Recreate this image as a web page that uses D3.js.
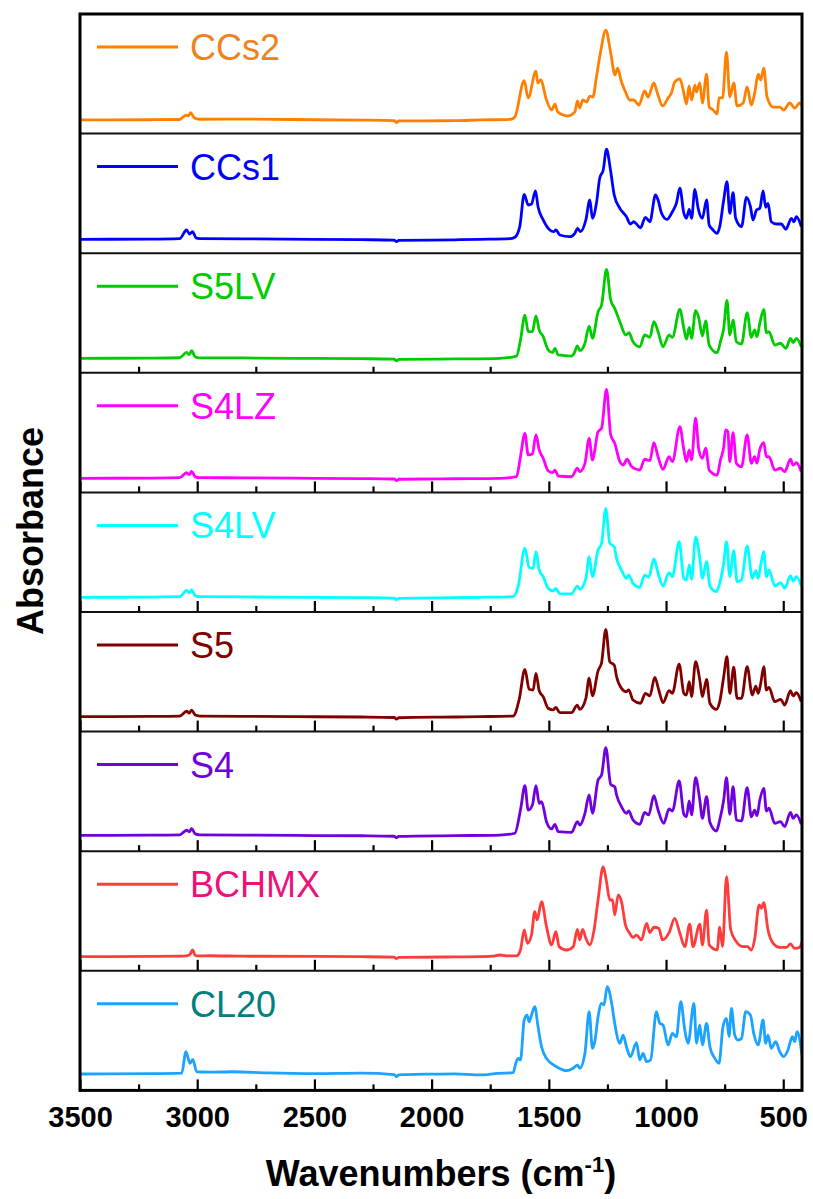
<!DOCTYPE html>
<html>
<head>
<meta charset="utf-8">
<script src="https://cdn.jsdelivr.net/npm/d3@7"></script>
<style>
  body { margin: 0; background: #fff; }
  svg { display: block; font-family: "Liberation Sans", Arial, sans-serif; }
</style>
</head>
<body>
<div id="chart"></div>
<script>
// tick values (wavenumbers, cm-1)
const majorTicks = [3500, 3000, 2500, 2000, 1500, 1000, 500];
const minorTicks = [3250, 2750, 2250, 1750, 1250, 750];

// samples, top panel first
const names = ['CCs2', 'CCs1', 'S5LV', 'S4LZ', 'S4LV', 'S5', 'S4', 'BCHMX', 'CL20'];
const lineColors = ['#ff8000', '#0000ff', '#00cc00', '#ff00ff', '#00ffff', '#800000', '#7000dd', '#ff3c3c', '#1aa3ff'];
const labelColors = ['#f0821e', '#0000ff', '#00cc00', '#ff00ff', '#00ffff', '#800000', '#7000dd', '#ec1279', '#008080'];
// which panel bottoms carry ticks: 0 none, 1 minor only, 2 all
const tickMode = [0, 0, 1, 2, 2, 2, 2, 2, 2];

// spectra as [wavenumber, absorbance (% of panel height)]
const ccs2 = [[3500,11.4],[3200,11.6],[3075,11.8],[3048,15.5],[3038,14.8],[3028,17.5],[3012,13.0],[2990,12.0],[2800,12.1],[2500,11.6],[2300,11.3],[2160,10.8],[2150,9.3],[2140,10.6],[1900,10.8],[1794,11.4],[1662,12.0],
  [1645,13.9],[1605,44.2],[1588,29.8],[1555,52.3],[1547,42.3],[1535,44.8],[1510,28.1],[1488,19.7],[1474,24.7],[1462,18.1],[1419,14.7],[1389,18.1],[1378,27.3],[1368,21.4],[1355,28.1],[1339,26.4],[1325,31.4],[1312,30.6],[1297,47.3],[1280,67.4],[1257,86.6],[1236,67.4],[1218,49.0],[1207,54.8],[1190,43.1],[1173,34.8],[1155,28.1],[1138,28.1],[1116,23.9],[1091,35.6],[1077,30.6],[1052,42.3],[1037,33.9],[1015,23.1],[991,29.8],[977,33.9],[963,43.1],[941,45.7],[927,36.5],[913,24.7],[902,39.8],[891,28.1],[877,40.6],[870,34.8],[856,42.3],[845,25.6],[827,49.8],[816,22.2],[799,19.7],[782,16.4],[774,29.8],[759,29.8],[742,68.2],[728,30.6],[711,42.3],[697,23.1],[671,25.6],[654,39.0],[636,23.9],[621,34.8],[607,49.8],[596,44.8],[583,54.8],[569,30.6],[543,22.2],[515,22.2],[498,19.7],[472,25.6],[451,21.4],[430,25.6],[420,23.1]];

const ccs1 = [[3500,11.6],[3200,11.8],[3075,12.2],[3045,19.4],[3033,16.0],[3020,18.0],[3005,12.8],[2990,12.2],[2800,12.0],[2500,11.6],[2300,11.3],[2160,11.0],[2150,9.6],[2140,10.8],[1900,11.2],[1794,11.6],[1662,12.2],
  [1645,13.3],[1624,22.2],[1605,49.2],[1588,40.3],[1574,41.1],[1557,52.0],[1546,38.9],[1524,27.8],[1496,19.4],[1479,18.0],[1470,19.4],[1453,15.2],[1411,13.8],[1389,16.6],[1378,20.8],[1365,18.0],[1342,27.8],[1325,44.5],[1314,29.2],[1297,41.7],[1283,62.6],[1268,69.6],[1254,86.9],[1237,69.6],[1221,48.7],[1197,37.5],[1169,30.5],[1152,24.4],[1138,26.3],[1126,24.4],[1109,21.3],[1088,30.0],[1069,26.3],[1045,48.7],[1034,44.5],[1019,33.4],[996,28.3],[973,34.7],[956,41.7],[941,54.3],[924,33.4],[913,29.2],[901,36.7],[891,29.2],[877,53.4],[863,37.5],[845,29.2],[827,44.5],[816,23.6],[802,20.0],[782,16.6],[771,22.2],[754,44.5],[740,59.8],[728,33.4],[714,50.6],[703,29.2],[678,22.2],[657,46.7],[640,38.9],[629,27.8],[614,36.1],[600,37.5],[586,52.0],[575,38.4],[565,41.7],[551,26.3],[529,24.4],[508,24.4],[489,20.0],[465,29.2],[454,26.3],[444,30.5],[423,22.2]];

const s5lv = [[3500,12.1],[3200,12.3],[3075,12.6],[3045,17.0],[3034,15.2],[3024,18.5],[3008,13.2],[2990,12.5],[2800,12.4],[2500,12.0],[2300,11.8],[2160,11.4],[2150,10.0],[2140,11.2],[1900,11.6],[1709,12.1],
  [1638,14.0],[1621,27.4],[1602,48.3],[1588,34.4],[1570,34.4],[1555,47.5],[1541,35.8],[1524,30.2],[1503,19.1],[1484,16.8],[1474,20.5],[1460,14.9],[1403,14.0],[1389,17.6],[1378,22.4],[1368,18.5],[1346,24.7],[1328,39.1],[1314,28.8],[1290,51.1],[1275,56.7],[1254,86.5],[1236,60.9],[1219,53.9],[1197,42.7],[1172,31.6],[1158,33.5],[1141,26.0],[1112,21.8],[1091,31.6],[1069,29.7],[1052,42.7],[1034,34.4],[1013,21.8],[987,31.6],[973,29.7],[941,53.1],[924,37.2],[913,28.0],[901,38.0],[891,28.8],[874,51.9],[860,45.6],[845,30.8],[831,43.3],[816,23.2],[782,16.8],[768,26.0],[754,37.2],[740,60.6],[728,31.6],[714,44.1],[700,26.0],[678,24.1],[654,50.2],[636,29.7],[622,35.8],[612,30.2],[600,41.4],[583,53.1],[572,33.5],[561,34.4],[536,23.2],[512,24.7],[489,20.5],[469,28.8],[458,25.2],[444,28.8],[423,21.8]];

const s4lz = [[3500,11.8],[3200,12.0],[3075,12.3],[3045,16.5],[3034,14.8],[3024,17.5],[3008,13.0],[2990,12.3],[2800,12.2],[2500,11.8],[2300,11.6],[2160,11.2],[2150,9.8],[2140,11.0],[1900,11.4],[1709,11.8],
  [1638,13.1],[1621,29.8],[1602,49.4],[1588,31.3],[1570,32.1],[1555,48.0],[1541,35.5],[1524,28.5],[1503,18.1],[1484,16.5],[1474,18.7],[1460,13.7],[1403,13.1],[1378,20.2],[1368,17.3],[1346,24.3],[1328,45.2],[1314,27.1],[1290,50.8],[1275,53.6],[1254,86.2],[1236,48.0],[1219,41.1],[1197,25.7],[1183,22.9],[1166,27.7],[1147,21.5],[1112,18.7],[1091,27.7],[1069,26.5],[1052,41.6],[1034,29.8],[1013,19.3],[987,29.8],[973,25.7],[941,54.9],[924,35.5],[913,25.7],[901,35.5],[891,27.1],[874,62.0],[860,35.5],[845,28.5],[831,36.9],[816,18.7],[782,14.5],[768,27.1],[754,37.7],[746,52.2],[736,50.8],[728,25.7],[714,50.0],[700,24.3],[678,21.5],[654,48.0],[636,24.3],[622,29.8],[612,24.3],[600,36.0],[583,41.6],[572,29.8],[561,29.8],[536,18.7],[512,20.2],[494,17.3],[469,27.7],[458,22.9],[444,24.8],[423,17.3]];

const s4lv = [[3500,12.3],[3200,12.5],[3075,12.8],[3045,18.0],[3034,16.0],[3024,18.5],[3008,13.5],[2990,12.8],[2800,12.6],[2500,12.2],[2300,12.0],[2160,11.6],[2150,10.2],[2140,11.4],[1900,12.0],[1794,12.3],
  [1652,12.8],[1631,21.2],[1602,53.3],[1584,37.4],[1567,36.5],[1555,50.4],[1541,35.1],[1524,29.5],[1503,19.8],[1482,17.6],[1470,19.8],[1453,15.1],[1403,15.1],[1379,21.7],[1368,19.0],[1342,28.2],[1328,46.2],[1314,29.5],[1290,51.8],[1275,57.4],[1257,86.7],[1240,57.4],[1221,54.6],[1211,44.9],[1190,35.1],[1169,28.2],[1159,30.9],[1141,24.0],[1112,20.7],[1091,30.9],[1074,29.0],[1052,44.3],[1034,32.4],[1013,21.7],[987,32.9],[973,29.5],[944,58.8],[924,28.2],[913,26.8],[901,39.3],[891,27.3],[874,62.5],[856,44.9],[845,28.2],[827,42.1],[813,21.7],[785,17.0],[771,24.0],[754,40.7],[742,58.8],[728,29.5],[711,51.3],[697,25.3],[678,26.8],[654,55.2],[632,28.2],[617,34.5],[607,28.2],[596,39.3],[583,50.4],[572,29.5],[561,35.1],[536,21.7],[511,24.5],[494,19.8],[469,30.1],[458,25.9],[444,29.5],[423,21.7]];

const s5 = [[3500,12.5],[3200,12.7],[3075,13.0],[3045,17.0],[3034,15.5],[3024,18.0],[3008,13.8],[2990,13.0],[2800,12.8],[2500,12.4],[2300,12.2],[2160,11.8],[2150,10.4],[2140,11.6],[1900,12.2],[1794,12.5],
  [1652,13.0],[1627,26.4],[1602,52.1],[1584,35.4],[1567,34.8],[1555,48.7],[1541,34.2],[1524,29.2],[1503,19.5],[1482,18.1],[1470,20.3],[1453,15.8],[1403,15.8],[1379,22.2],[1368,18.6],[1342,27.8],[1328,44.6],[1314,29.8],[1290,50.9],[1275,57.6],[1257,85.5],[1240,58.4],[1221,55.7],[1211,45.9],[1190,36.2],[1169,33.4],[1159,34.8],[1141,26.4],[1109,23.7],[1088,32.0],[1069,29.8],[1048,45.4],[1031,34.8],[1013,24.2],[987,34.2],[973,32.0],[944,56.5],[924,32.0],[913,30.6],[901,41.7],[891,29.2],[874,58.4],[856,43.1],[845,29.2],[827,43.7],[813,23.7],[785,18.6],[771,25.0],[754,45.9],[740,62.6],[728,32.0],[711,53.8],[697,27.8],[678,27.8],[654,54.3],[632,30.6],[617,38.1],[607,32.0],[596,40.4],[583,54.3],[572,34.8],[561,37.0],[536,25.0],[511,27.0],[494,22.2],[469,34.2],[458,29.8],[444,32.5],[423,25.0]];

const s4 = [[3500,13.2],[3200,13.4],[3075,13.7],[3045,17.5],[3034,16.2],[3024,18.8],[3008,14.5],[2990,13.7],[2800,13.5],[2500,13.1],[2300,12.9],[2160,12.5],[2150,11.2],[2140,12.4],[1900,13.0],[1709,13.5],
  [1645,15.0],[1621,34.4],[1602,54.8],[1588,34.4],[1570,38.6],[1555,54.8],[1541,40.0],[1531,41.4],[1510,24.7],[1488,18.6],[1474,22.5],[1460,16.3],[1403,15.8],[1378,24.7],[1368,21.9],[1346,31.7],[1328,47.0],[1314,31.7],[1290,59.5],[1275,63.7],[1257,86.5],[1236,55.9],[1219,53.9],[1211,47.0],[1190,37.2],[1169,31.7],[1159,33.6],[1141,26.1],[1112,22.5],[1091,32.5],[1074,30.3],[1052,46.4],[1034,34.4],[1010,23.3],[987,35.3],[973,33.6],[944,58.7],[924,30.9],[913,28.8],[901,42.0],[891,30.3],[874,61.5],[856,42.8],[845,27.5],[827,45.6],[813,24.2],[785,16.9],[771,26.1],[754,42.8],[742,61.5],[728,30.9],[714,53.9],[700,26.1],[678,25.3],[654,53.1],[636,28.8],[622,34.4],[612,29.7],[600,42.8],[583,52.6],[572,33.6],[561,35.9],[536,23.3],[512,24.7],[494,20.5],[469,32.5],[458,27.5],[444,30.3],[423,22.5]];

const bchmx = [[3500,11.8],[3200,12.0],[3060,12.2],[3032,13.5],[3020,17.4],[3008,12.8],[2990,12.4],[2950,12.6],[2800,12.2],[2500,12.0],[2300,11.8],[2160,11.4],[2150,10.2],[2140,11.2],[1900,11.6],[1794,11.8],[1740,12.2],[1709,13.2],[1680,12.4],
  [1638,12.4],[1621,17.4],[1605,34.1],[1591,23.0],[1574,29.9],[1560,49.4],[1550,42.5],[1531,57.8],[1510,36.9],[1488,21.6],[1470,32.7],[1456,20.2],[1425,17.4],[1396,20.2],[1378,34.7],[1368,25.8],[1356,34.7],[1342,27.2],[1325,21.6],[1307,34.1],[1290,59.2],[1268,87.0],[1254,74.5],[1240,59.2],[1228,59.2],[1219,46.7],[1204,63.4],[1190,57.8],[1173,38.3],[1155,31.4],[1141,28.0],[1126,29.9],[1105,25.8],[1083,39.7],[1069,31.9],[1052,36.4],[1031,35.5],[1015,25.8],[987,31.9],[963,43.9],[941,31.4],[920,20.2],[899,39.1],[885,20.2],[856,39.1],[845,21.6],[827,50.8],[816,21.6],[782,17.4],[771,36.4],[759,20.2],[742,78.7],[724,34.1],[700,24.3],[671,20.2],[652,20.2],[636,17.4],[622,26.3],[603,55.0],[593,52.3],[583,56.9],[565,34.1],[543,23.0],[515,19.6],[487,19.6],[469,22.4],[451,18.8],[430,19.6],[420,24.3]];

const cl20 = [[3500,13.7],[3200,14.0],[3066,14.5],[3048,32.4],[3031,22.7],[3019,26.0],[3002,15.6],[2950,15.2],[2850,15.6],[2700,14.6],[2500,14.0],[2300,14.4],[2160,13.2],[2150,11.5],[2140,13.0],[2000,13.6],[1900,13.8],[1794,12.9],[1716,14.3],
  [1652,14.8],[1641,22.7],[1631,26.8],[1621,25.4],[1605,58.9],[1593,63.0],[1584,57.4],[1574,63.0],[1560,70.0],[1546,53.3],[1531,36.5],[1510,26.8],[1467,19.8],[1425,16.5],[1396,18.5],[1378,21.2],[1368,18.5],[1346,31.0],[1328,65.8],[1314,35.2],[1304,40.7],[1290,61.6],[1275,72.8],[1265,71.4],[1251,86.7],[1232,72.8],[1219,56.1],[1197,39.4],[1183,46.3],[1169,36.5],[1152,28.2],[1126,39.9],[1112,25.4],[1098,31.0],[1083,24.0],[1066,25.4],[1041,65.8],[1027,56.1],[1013,54.7],[991,38.0],[973,47.7],[956,44.9],[937,74.2],[920,50.5],[906,39.4],[881,72.8],[870,39.4],[856,54.7],[845,38.0],[827,56.1],[813,36.5],[792,26.8],[774,22.7],[757,53.3],[742,60.3],[731,44.9],[721,68.6],[707,46.3],[693,42.1],[678,43.5],[660,65.8],[640,63.0],[626,47.7],[607,38.0],[586,58.9],[575,39.4],[565,46.3],[551,35.2],[532,40.7],[515,32.4],[498,28.2],[480,33.8],[461,44.9],[451,40.7],[441,49.1],[420,29.6]];

const spectra = [ccs2, ccs1, s5lv, s4lz, s4lv, s5, s4, bchmx, cl20];

const W = 813, H = 1199;
const plotL = 80, plotR = 802, plotT = 14, plotB = 1090.4;
const panelH = (plotB - plotT) / names.length;

const svg = d3.select('#chart').append('svg')
  .attr('width', W).attr('height', H);

const x = d3.scaleLinear().domain([3500, 420]).range([plotL, plotR]);

svg.append('defs').append('clipPath').attr('id', 'plotClip')
  .append('rect').attr('x', plotL).attr('y', plotT)
  .attr('width', plotR - plotL).attr('height', plotB - plotT);

names.forEach((name, i) => {
  let y0 = plotT + i * panelH;
  let y = d3.scaleLinear().domain([0, 100]).range([y0 + panelH, y0]);
  let g = svg.append('g');

  // ticks on the bottom edge of the panel, pointing up
  if (tickMode[i] > 0) {
    let minor = d3.axisBottom(x).tickValues(minorTicks).tickSize(-6).tickFormat('');
    g.append('g').attr('class', 'minor')
      .attr('transform', 'translate(0,' + (y0 + panelH) + ')')
      .call(minor);
  }
  if (tickMode[i] > 1) {
    let major = d3.axisBottom(x).tickValues(majorTicks).tickSizeInner(-11).tickSizeOuter(0)
      .tickPadding(16)
      .tickFormat(i === names.length - 1 ? d3.format('d') : '');
    g.append('g').attr('class', 'major')
      .attr('transform', 'translate(0,' + (y0 + panelH) + ')')
      .call(major);
  }
  g.selectAll('.domain').remove();
  g.selectAll('.tick line').attr('stroke', '#000').attr('stroke-width', 2.2);
  g.selectAll('.tick text')
    .attr('fill', '#000')
    .style('font-size', '29px')
    .style('font-weight', 'bold')
    .style('font-family', '"Liberation Sans", Arial, sans-serif');

  let line = d3.line()
    .x(d => x(d[0]))
    .y(d => y(d[1]))
    .curve(d3.curveMonotoneX);

  g.append('path')
    .datum(spectra[i])
    .attr('d', line)
    .attr('clip-path', 'url(#plotClip)')
    .attr('fill', 'none')
    .attr('stroke', lineColors[i])
    .attr('stroke-width', 2.8)
    .attr('stroke-linejoin', 'round');

  // legend
  g.append('line')
    .attr('x1', 97).attr('x2', 178)
    .attr('y1', y0 + 33).attr('y2', y0 + 33)
    .attr('stroke', lineColors[i]).attr('stroke-width', 3);
  g.append('text')
    .attr('x', 190).attr('y', y0 + 46)
    .attr('fill', labelColors[i])
    .style('font-size', '36px')
    .text(name);

  // divider
  if (i > 0) {
    svg.append('line')
      .attr('x1', plotL).attr('x2', plotR)
      .attr('y1', y0).attr('y2', y0)
      .attr('stroke', '#111').attr('stroke-width', 2);
  }
});

// outer frame
svg.append('rect')
  .attr('x', plotL).attr('y', plotT)
  .attr('width', plotR - plotL).attr('height', plotB - plotT)
  .attr('fill', 'none').attr('stroke', '#000').attr('stroke-width', 3);

let title = svg.append('text')
  .attr('x', (plotL + plotR) / 2).attr('y', 1186)
  .attr('text-anchor', 'middle')
  .style('font-size', '36px').style('font-weight', 'bold');
title.append('tspan').text('Wavenumbers (cm');
title.append('tspan').attr('dy', -14).style('font-size', '22px').text('-1');
title.append('tspan').attr('dy', 14).text(')');

svg.append('text')
  .attr('transform', 'translate(43,531) rotate(-90)')
  .attr('text-anchor', 'middle')
  .style('font-size', '36px').style('font-weight', 'bold')
  .text('Absorbance');
</script>
</body>
</html>
